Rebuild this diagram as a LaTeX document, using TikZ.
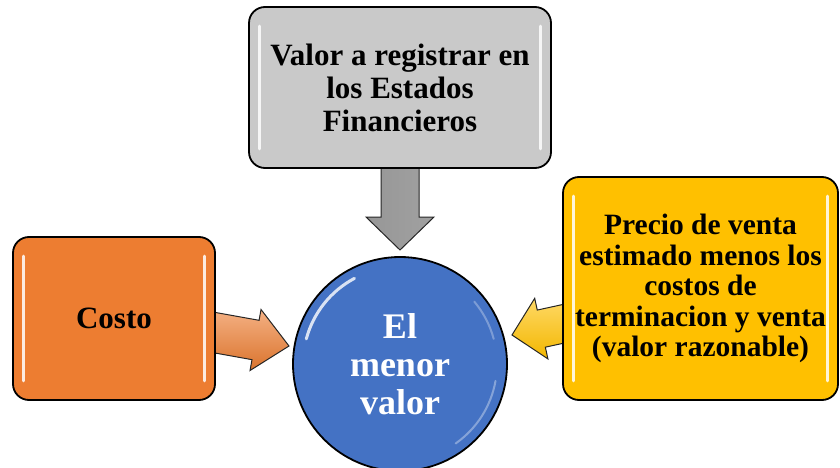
\documentclass[tikz,border=0pt]{standalone}
\usepackage{fontspec}
\setmainfont{Liberation Serif}
\usetikzlibrary{calc}
\definecolor{cgray}{HTML}{C9C9C9}
\definecolor{corange}{HTML}{ED7D31}
\definecolor{cyellow}{HTML}{FFC000}
\definecolor{cblue}{HTML}{4472C4}
\newcommand\myblockarrow[6]{%
  \coordinate (ba-b) at ($(#2)!#3!(#1)$);
  \path[#6] ($(#1)!#4!90:(#2)$) -- ($(ba-b)!#4!-90:(#1)$) -- ($(ba-b)!#5!-90:(#1)$)
    -- (#2) -- ($(ba-b)!#5!90:(#1)$) -- ($(ba-b)!#4!90:(#1)$) -- ($(#1)!#4!-90:(#2)$) -- cycle;}
\tikzset{
  box/.style={draw=black, line width=1.8pt, rounded corners=16pt, align=center,
    font=\bfseries, text=black, inner sep=0pt},
  hl/.style={white, line width=3pt, line cap=round, opacity=0.85},
  barrow/.style={draw=black!85, line width=1pt},
}
\begin{document}
\begin{tikzpicture}[x=1pt,y=-1pt]
\useasboundingbox (0,0) rectangle (840,468);
% anchor points for arrows
\coordinate (s1) at (400,160);
\coordinate (t1) at (400,250);
\coordinate (s2) at (200,330);
\coordinate (t2) at (289,346);
\coordinate (s3) at (590,318);
\coordinate (t3) at (512,335);
% arrows
\myblockarrow{s1}{t1}{33pt}{19pt}{34pt}{barrow, left color=cgray!75!black, middle color=cgray!60!white, right color=cgray!80!black}
\myblockarrow{s2}{t2}{34pt}{20pt}{31pt}{barrow, top color=corange!60!white, bottom color=corange!92!black}
\myblockarrow{s3}{t3}{30pt}{19pt}{31pt}{barrow, top color=cyellow!60!white, bottom color=cyellow!95!black}
% boxes
\node[box, fill=cgray, minimum width=302pt, minimum height=161pt,
      font=\bfseries\fontsize{31}{33}\selectfont] (top) at (400,87.5)
  {Valor a registrar en\\los Estados\\Financieros};
\node[box, fill=corange, minimum width=202pt, minimum height=163pt,
      font=\bfseries\fontsize{31}{33}\selectfont] (costo) at (114,318.5) {Costo};
\node[box, fill=cyellow, minimum width=275pt, minimum height=223pt,
      font=\bfseries\fontsize{29.5}{30.5}\selectfont] (precio) at (700.5,288.5)
  {Precio de venta\\estimado menos los\\costos de\\terminacion y venta\\(valor razonable)};
% box highlights
\foreach \b in {top,costo,precio}{
  \draw[hl] ($(\b.north west)+(11,20)$) -- ($(\b.south west)+(11,-20)$);
  \draw[hl] ($(\b.north east)+(-11,20)$) -- ($(\b.south east)+(-11,-20)$);
}
% circle
\node[circle, draw=black, line width=1.8pt, fill=cblue, minimum size=214pt, inner sep=0pt,
      align=center, text=white, font=\bfseries\fontsize{36}{38}\selectfont] (c) at (400,364)
  {El\\menor\\valor};
\begin{scope}[shift={(c.center)}, x=1pt, y=1pt]
  \draw[white, opacity=0.8, line width=3pt, line cap=round] (165:97) arc[start angle=165, end angle=118, radius=97];
  \draw[white, opacity=0.35, line width=2pt, line cap=round] (-10:97) arc[start angle=-10, end angle=-55, radius=97];
  \draw[white, opacity=0.3, line width=2pt, line cap=round] (40:97) arc[start angle=40, end angle=15, radius=97];
\end{scope}
\end{tikzpicture}
\end{document}
